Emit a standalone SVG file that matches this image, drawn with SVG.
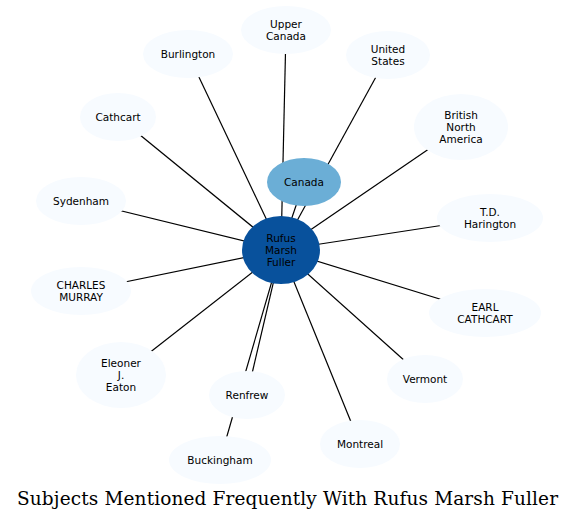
<svg xmlns="http://www.w3.org/2000/svg" width="576" height="521" viewBox="0 0 576 521">
<style>
.e line{stroke:#000;stroke-width:1.2}
.n ellipse{fill:#f7fbff;stroke:none}
text{font-family:"DejaVu Sans",sans-serif;font-size:10.5px;fill:#000;text-anchor:middle}
.t{font-family:"DejaVu Serif",serif;font-size:18.5px}
</style>
<rect width="576" height="521" fill="#fff"/>
<g id="edges" class="e">
<line x1="281" y1="250" x2="286" y2="30"/>
<line x1="281" y1="250" x2="188" y2="54"/>
<line x1="281" y1="250" x2="388" y2="55"/>
<line x1="281" y1="250" x2="304" y2="182"/>
<line x1="281" y1="250" x2="118" y2="117"/>
<line x1="281" y1="250" x2="461" y2="127"/>
<line x1="281" y1="250" x2="81" y2="201"/>
<line x1="281" y1="250" x2="490" y2="218"/>
<line x1="281" y1="250" x2="81" y2="291"/>
<line x1="281" y1="250" x2="485" y2="313"/>
<line x1="281" y1="250" x2="121" y2="375"/>
<line x1="281" y1="250" x2="247" y2="395"/>
<line x1="281" y1="250" x2="220" y2="460"/>
<line x1="281" y1="250" x2="425" y2="379"/>
<line x1="281" y1="250" x2="360" y2="444"/>
</g>
<g id="upper_canada" class="n"><ellipse cx="286" cy="30" rx="45" ry="24"/><text x="286" y="27.8">Upper<tspan x="286" dy="12">Canada</tspan></text></g>
<g id="burlington" class="n"><ellipse cx="188" cy="54" rx="45" ry="24"/><text x="188" y="57.8">Burlington</text></g>
<g id="united_states" class="n"><ellipse cx="388" cy="55" rx="42" ry="24"/><text x="388" y="52.8">United<tspan x="388" dy="12">States</tspan></text></g>
<g id="cathcart" class="n"><ellipse cx="118" cy="117" rx="38" ry="24"/><text x="118" y="120.8">Cathcart</text></g>
<g id="bna" class="n"><ellipse cx="461" cy="127" rx="47" ry="33"/><text x="461" y="118.8">British<tspan x="461" dy="12">North</tspan><tspan x="461" dy="12">America</tspan></text></g>
<g id="canada" class="n"><ellipse cx="304" cy="182" rx="37" ry="24" style="fill:#6baed6"/><text x="304" y="185.8">Canada</text></g>
<g id="sydenham" class="n"><ellipse cx="81" cy="201" rx="45" ry="24"/><text x="81" y="204.8">Sydenham</text></g>
<g id="td_harington" class="n"><ellipse cx="490" cy="218" rx="53" ry="24"/><text x="490" y="215.8">T.D.<tspan x="490" dy="12">Harington</tspan></text></g>
<g id="fuller" class="n"><ellipse cx="281" cy="250" rx="39" ry="34" style="fill:#08519c"/><text x="281" y="241.8">Rufus<tspan x="281" dy="12">Marsh</tspan><tspan x="281" dy="12">Fuller</tspan></text></g>
<g id="charles_murray" class="n"><ellipse cx="81" cy="291" rx="50" ry="24"/><text x="81" y="288.8">CHARLES<tspan x="81" dy="12">MURRAY</tspan></text></g>
<g id="earl_cathcart" class="n"><ellipse cx="485" cy="313" rx="56" ry="24"/><text x="485" y="310.8">EARL<tspan x="485" dy="12">CATHCART</tspan></text></g>
<g id="eleoner" class="n"><ellipse cx="121" cy="375" rx="45" ry="33"/><text x="121" y="366.8">Eleoner<tspan x="121" dy="12">J.</tspan><tspan x="121" dy="12">Eaton</tspan></text></g>
<g id="renfrew" class="n"><ellipse cx="247" cy="395" rx="38" ry="24"/><text x="247" y="398.8">Renfrew</text></g>
<g id="vermont" class="n"><ellipse cx="425" cy="379" rx="38" ry="24"/><text x="425" y="382.8">Vermont</text></g>
<g id="montreal" class="n"><ellipse cx="360" cy="444" rx="40" ry="24"/><text x="360" y="447.8">Montreal</text></g>
<g id="buckingham" class="n"><ellipse cx="220" cy="460" rx="51" ry="24"/><text x="220" y="463.8">Buckingham</text></g>
<text class="t" x="287.5" y="505" textLength="541">Subjects Mentioned Frequently With Rufus Marsh Fuller</text>
</svg>
